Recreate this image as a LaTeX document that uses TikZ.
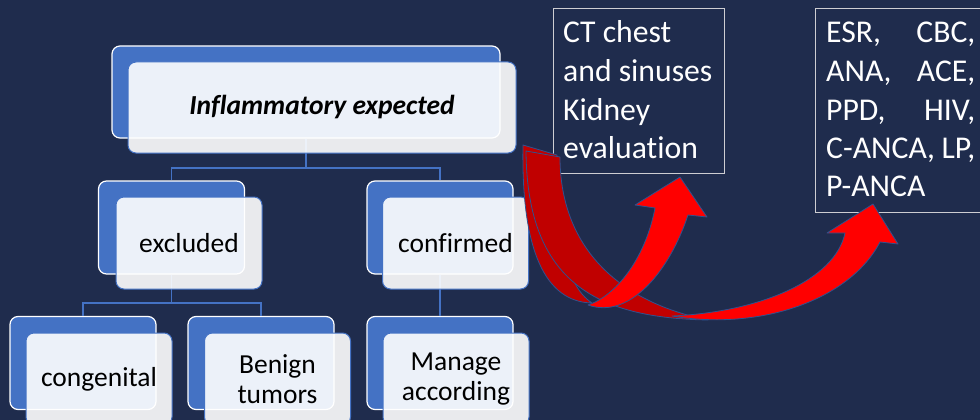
\documentclass[tikz,border=0pt]{standalone}
\usepackage{fontspec}
\setmainfont{Carlito}[Ligatures={NoCommon}]
\definecolor{bgnavy}{RGB}{31,44,77}
\definecolor{accent}{RGB}{68,114,196}
\definecolor{darkred}{RGB}{192,0,0}
\definecolor{brightred}{RGB}{255,0,0}
\definecolor{edgeblue}{RGB}{47,82,143}
\definecolor{boxline}{RGB}{205,205,210}
\begin{document}
\begin{tikzpicture}[x=1pt,y=-1pt,
  backbox/.style={draw=white, line width=1.2pt, fill=accent, rounded corners=8pt,
    minimum width=146pt, minimum height=93pt, inner sep=0pt},
  frontbox/.style={draw=accent, line width=1pt, fill=white, fill opacity=0.9,
    text opacity=1, rounded corners=8pt, minimum width=146pt, minimum height=92pt,
    inner sep=0pt, font=\fontsize{27.5}{30}\selectfont, align=center, text=black},
  conn/.style={draw=accent, line width=1.5pt},
  infobox/.style={draw=boxline, line width=1pt, inner sep=0pt},
  infotext/.style={text=white, font=\fontsize{31.7}{38}\selectfont, inner sep=0pt, anchor=base west},
  ribbon/.style={draw=edgeblue, line width=0.8pt, line join=round}]
\useasboundingbox (0,0) rectangle (980,420);
\fill[bgnavy] (0,0) rectangle (980,420);
\clip (0,0) rectangle (980,420);

% back boxes
\node[backbox, minimum width=388pt, minimum height=92pt] (topb) at (306,92) {};
\node[backbox] (exb) at (171.5,227.5) {};
\node[backbox] (cfb) at (440,227.5) {};
\node[backbox] (cgb) at (83,363) {};
\node[backbox] (bnb) at (261,363) {};
\node[backbox] (mgb) at (440,363) {};

% connectors
\coordinate (h1) at (0,168);
\coordinate (h2) at (0,303);
\draw[conn] (topb.south) -- (topb.south |- h1) -| (exb.north);
\draw[conn] (topb.south |- h1) -| (cfb.north);
\draw[conn] (exb.south) -- (exb.south |- h2) -| (cgb.north);
\draw[conn] (exb.south |- h2) -| (bnb.north);
\draw[conn] (cfb.south) -- (mgb.north);

% front boxes
\node[frontbox, minimum width=388pt, minimum height=91pt] (topf) at (322,107.5) {\textbf{\textit{Inflammatory expected}}};
\node[frontbox] (exf) at (189,243) {excluded};
\node[frontbox] (cff) at (455.5,243) {confirmed};
\node[frontbox] (cgf) at (99,379) {congenital};
\node[frontbox] (bnf) at (277.5,379) {Benign\\tumors};
\node[frontbox] (mgf) at (456,379) {Manage\\according};

% info boxes
\node[infobox, minimum width=171pt, minimum height=164pt] (ctbox) at (638.5,91) {};
\node[infotext] (ct1) at (563,43) {CT chest};
\node[infotext] (ct2) at (563,81.5) {and sinuses};
\node[infotext] (ct3) at (563,120) {Kidney};
\node[infotext] (ct4) at (563,158) {evaluation};

\node[infobox, minimum width=185pt, minimum height=203pt] (labbox) at (907.5,110.5) {};
\node[infotext] (lb1) at (826,43) {\hbox to 149pt{ESR,\hfil CBC,}};
\node[infotext] (lb2) at (826,81.5) {\hbox to 149pt{ANA,\hfil ACE,}};
\node[infotext] (lb3) at (826,120) {\hbox to 149pt{PPD,\hfil HIV,}};
\node[infotext] (lb4) at (826,158) {\hbox to 149pt{C-ANCA,\hfil LP,}};
\node[infotext] (lb5) at (826,196.5) {P-ANCA};

% curved ribbon arrows
\filldraw[ribbon, fill=darkred] (523,145) -- (557,155)
  .. controls (556,235) and (565,285) .. (592,303)
  .. controls (545,302) and (521,250) .. (523,145) -- cycle;
\filldraw[ribbon, fill=darkred] (526,151) -- (560,157)
  .. controls (560,240) and (610,300) .. (708,320)
  .. controls (600,318) and (527,285) .. (526,151) -- cycle;
\filldraw[ribbon, fill=brightred] (588,305)
  .. controls (630,320) and (670,270) .. (688,215)
  -- (707,217) -- (680,177) -- (635,205) -- (655,208)
  .. controls (645,260) and (615,296) .. (588,305) -- cycle;
\filldraw[ribbon, fill=brightred] (672,316)
  .. controls (760,331) and (850,300) .. (880,242)
  -- (898,244) -- (873,204) -- (827,233) -- (845,233)
  .. controls (835,280) and (760,312) .. (672,316) -- cycle;
\end{tikzpicture}
\end{document}
